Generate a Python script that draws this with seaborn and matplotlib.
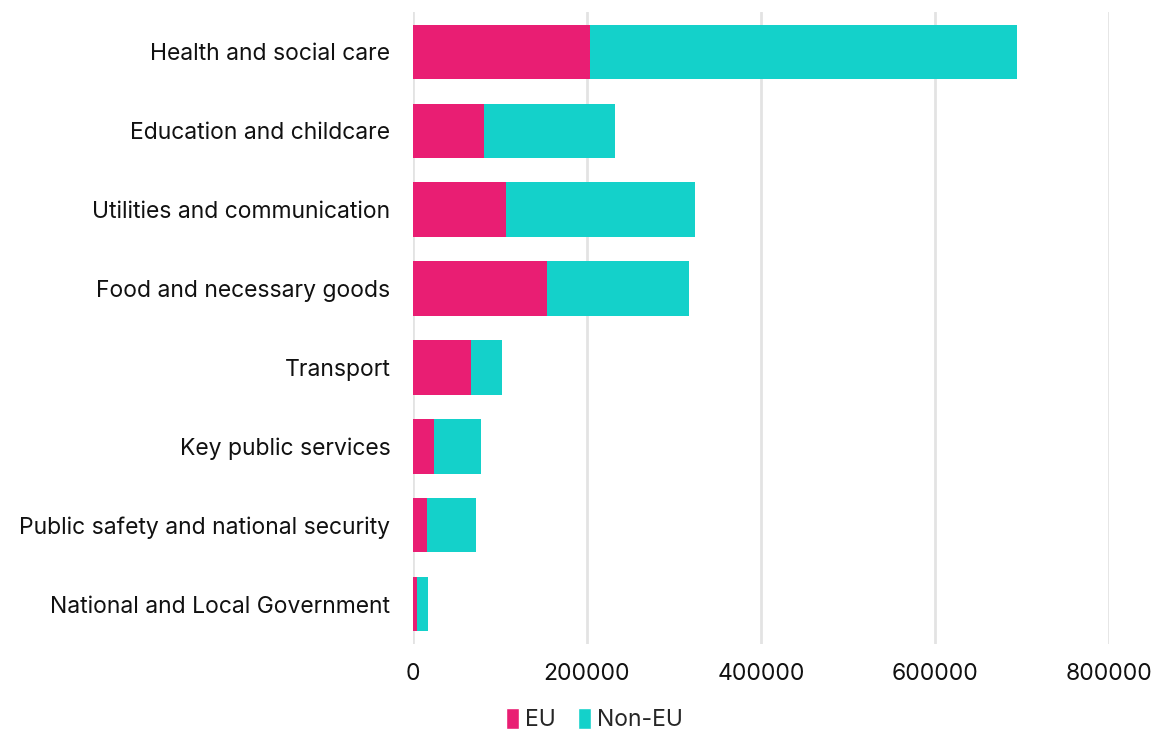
import matplotlib
matplotlib.use("Agg")
import matplotlib.pyplot as plt
import seaborn as sns
import pandas as pd
from matplotlib.patches import Patch

sectors = [
    "Health and social care",
    "Education and childcare",
    "Utilities and communication",
    "Food and necessary goods",
    "Transport",
    "Key public services",
    "Public safety and national security",
    "National and Local Government",
]
eu = [204000, 81600, 107200, 154300, 67000, 24500, 16400, 4600]
non_eu = [490000, 150800, 217100, 163500, 36000, 54000, 56700, 13300]
x_ticks = [0, 200000, 400000, 600000, 800000]

EU_COLOR = "#E91E73"
NON_EU_COLOR = "#14D1CA"

sns.set_theme(style="white")
plt.rcParams["font.family"] = ["Inter", "DejaVu Sans"]

df = pd.DataFrame({"sector": sectors, "EU": eu, "Non-EU": non_eu})
df["total"] = df["EU"] + df["Non-EU"]

fig = plt.figure(figsize=(11.52, 7.33), dpi=100)
ax = fig.add_axes([0.3582, 0.122, 0.6045, 0.861])

# stacked bars: total first (Non-EU on top), EU drawn over from zero
sns.barplot(data=df, y="sector", x="total", color=NON_EU_COLOR, width=0.69,
            saturation=1, ax=ax, zorder=3, linewidth=0)
sns.barplot(data=df, y="sector", x="EU", color=EU_COLOR, width=0.69,
            saturation=1, ax=ax, zorder=4, linewidth=0)

ax.set_xlim(0, 800000)
ax.set_ylim(7.5, -0.5)
ax.set_xticks(x_ticks)
ax.set_xticklabels([str(v) for v in x_ticks])
ax.set_xlabel("")
ax.set_ylabel("")
ax.xaxis.grid(True, color="#E3E3E3", linewidth=2, zorder=0)
ax.yaxis.grid(False)
for s in ax.spines.values():
    s.set_visible(False)
ax.tick_params(axis="x", length=0, pad=14, labelsize=16.5, labelcolor="#111111")
ax.tick_params(axis="y", length=0, pad=16, labelsize=16.5, labelcolor="#111111")
ax.set_axisbelow(True)

handles = [Patch(facecolor=EU_COLOR, label="EU"),
           Patch(facecolor=NON_EU_COLOR, label="Non-EU")]
fig.legend(handles=handles, loc="center", bbox_to_anchor=(0.516, 0.018),
           ncol=2, frameon=False, fontsize=16.5, handlelength=0.55,
           handleheight=1.0, handletextpad=0.25, columnspacing=1.0,
           borderpad=0.1)

fig.savefig("out.png", dpi=100)
